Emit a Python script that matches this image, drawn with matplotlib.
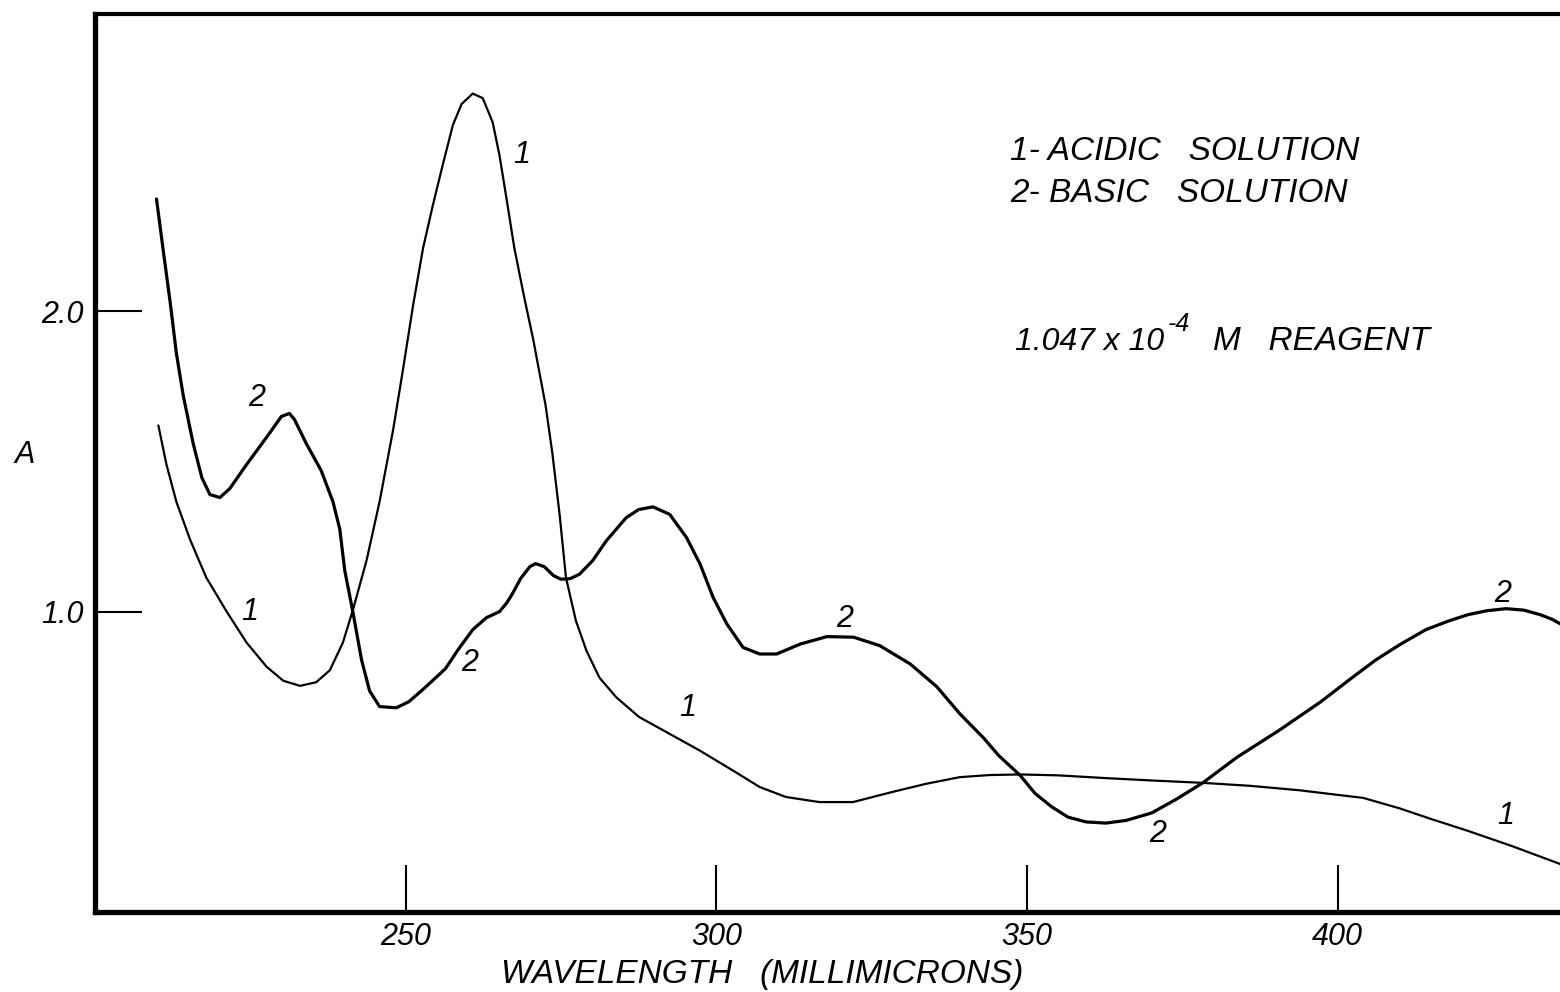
import matplotlib
matplotlib.use("Agg")
import matplotlib.pyplot as plt

# ---- data ----
wl_acidic = [210.2, 211.5, 213.1, 215.3, 217.9, 221.2, 224.4, 227.6, 230.3, 233.0, 235.6, 237.8,
             239.9, 241.5, 243.7, 245.8, 248.0, 249.6, 251.2, 252.8, 254.4, 256.0, 257.6, 259.0,
             260.8, 262.4, 264.0, 265.1, 266.2, 267.5, 269.1, 270.5, 271.5, 272.5, 273.6, 274.8,
             275.8, 277.4, 279.1, 281.2, 283.9, 287.6, 292.5, 297.3, 302.6, 307.0, 311.2, 316.6,
             322.0, 328.4, 333.8, 339.2, 344.0, 348.9, 355.0, 363.4, 370.0, 378.3, 386.0, 394.0,
             400.0, 404.1, 410.0, 415.0, 421.0, 428.0, 435.8]
a_acidic = [1.62, 1.49, 1.366, 1.24, 1.114, 1.0, 0.897, 0.817, 0.77, 0.753, 0.765, 0.805,
            0.897, 1.005, 1.17, 1.366, 1.607, 1.81, 2.02, 2.21, 2.355, 2.49, 2.62, 2.69,
            2.725, 2.71, 2.63, 2.52, 2.38, 2.21, 2.045, 1.91, 1.80, 1.69, 1.53, 1.32,
            1.114, 0.97, 0.87, 0.78, 0.715, 0.649, 0.593, 0.538, 0.472, 0.416, 0.383, 0.366,
            0.366, 0.40, 0.427, 0.449, 0.456, 0.458, 0.455, 0.445, 0.438, 0.43, 0.42, 0.405,
            0.39, 0.38, 0.345, 0.31, 0.27, 0.22, 0.16]

wl_basic = [209.9, 211.0, 212.1, 213.1, 214.2, 215.8, 217.2, 218.5, 220.1, 221.7, 224.4, 227.6,
            230.0, 231.3, 232.1, 234.0, 236.4, 238.3, 239.4, 240.2, 241.5, 242.9, 244.2, 245.8,
            248.5, 250.5, 253.0, 256.4, 258.5, 260.8, 263.0, 265.1, 266.3, 267.2, 268.5, 270.0,
            270.9, 272.3, 273.8, 275.0, 276.5, 278.0, 280.1, 282.3, 285.5, 287.5, 289.8, 292.5,
            295.2, 297.4, 299.5, 301.7, 304.3, 307.0, 309.7, 313.5, 317.8, 322.1, 326.3, 331.2,
            335.5, 339.2, 343.0, 345.5, 348.9, 351.3, 354.0, 356.6, 359.5, 362.7, 366.0, 370.1,
            374.0, 378.3, 383.8, 390.6, 397.3, 402.0, 406.2, 410.0, 414.2, 418.0, 421.0, 424.0,
            427.1, 430.0, 432.6, 434.5, 435.8]
a_basic = [2.374, 2.20, 2.03, 1.86, 1.72, 1.56, 1.446, 1.39, 1.38, 1.41, 1.49, 1.58,
           1.65, 1.66, 1.64, 1.56, 1.47, 1.366, 1.275, 1.137, 1.0, 0.84, 0.736, 0.684,
           0.68, 0.70, 0.745, 0.81, 0.875, 0.94, 0.98, 1.00, 1.03, 1.06, 1.11, 1.15,
           1.16, 1.15, 1.12, 1.108, 1.11, 1.125, 1.17, 1.236, 1.313, 1.34, 1.349, 1.324,
           1.247, 1.158, 1.047, 0.959, 0.881, 0.859, 0.859, 0.892, 0.917, 0.915, 0.887, 0.826,
           0.75, 0.66, 0.58, 0.52, 0.455, 0.395, 0.35, 0.316, 0.30, 0.296, 0.305, 0.33,
           0.375, 0.43, 0.515, 0.605, 0.70, 0.775, 0.84, 0.89, 0.94, 0.97, 0.99, 1.003,
           1.01, 1.005, 0.99, 0.975, 0.96]

x_ticks = [250, 300, 350, 400]
x_tick_labels = ["250", "300", "350", "400"]
y_ticks = [1.0, 2.0]
y_tick_labels = ["1.0", "2.0"]

curve_label_text = ["1", "2", "1", "2", "1", "2", "2", "1", "2"]
curve_label_wl = [224.9, 226.0, 268.7, 260.3, 295.4, 320.7, 371.0, 427.0, 426.5]
curve_label_a = [1.00, 1.71, 2.52, 0.83, 0.68, 0.977, 0.26, 0.32, 1.06]

FONT = ["Liberation Sans", "DejaVu Sans"]
plt.rcParams["font.family"] = FONT

W, H = 1560, 992
fig = plt.figure(figsize=(W / 100, H / 100), dpi=100)
ax = fig.add_axes([95 / W, (H - 912) / H, (W - 95) / W, (912 - 14) / H])

ax.plot(wl_acidic, a_acidic, color="black", lw=1.6,
        solid_capstyle="round", solid_joinstyle="round")
ax.plot(wl_basic, a_basic, color="black", lw=2.3,
        solid_capstyle="round", solid_joinstyle="round")

ax.set_xlim(200, 435.8)
ax.set_ylim(0, 2.99)

for s in ["left", "bottom"]:
    ax.spines[s].set_linewidth(3.8)
ax.spines["top"].set_linewidth(3.0)
ax.spines["right"].set_visible(False)

ax.set_xticks(x_ticks)
ax.set_xticklabels(x_tick_labels, fontsize=22, fontstyle="italic")
ax.set_yticks(y_ticks)
ax.set_yticklabels(y_tick_labels, fontsize=22, fontstyle="italic")
ax.tick_params(axis="both", direction="in", length=34, width=1.5)
ax.tick_params(axis="x", pad=7)
ax.tick_params(axis="y", pad=8)

for t, xw, ya in zip(curve_label_text, curve_label_wl, curve_label_a):
    ax.text(xw, ya, t, fontsize=22, fontstyle="italic", ha="center", va="center")

def ftext(x, y, s, **kw):
    fig.text(x / W, 1 - y / H, s, fontstyle="italic", **kw)

ftext(1010, 152, "1- ACIDIC   SOLUTION", fontsize=24, ha="left", va="center")
ftext(1010, 193, "2- BASIC   SOLUTION", fontsize=24, ha="left", va="center")
ftext(1015, 342, "1.047 x 10", fontsize=23, ha="left", va="center")
ftext(1168, 324, "-4", fontsize=18, ha="left", va="center")
ftext(1213, 342, "M   REAGENT", fontsize=24, ha="left", va="center")
ftext(25, 455, "A", fontsize=22, ha="center", va="center")
ftext(762, 974, "WAVELENGTH   (MILLIMICRONS)", fontsize=24, ha="center", va="center")

fig.savefig("out.png", dpi=100)
